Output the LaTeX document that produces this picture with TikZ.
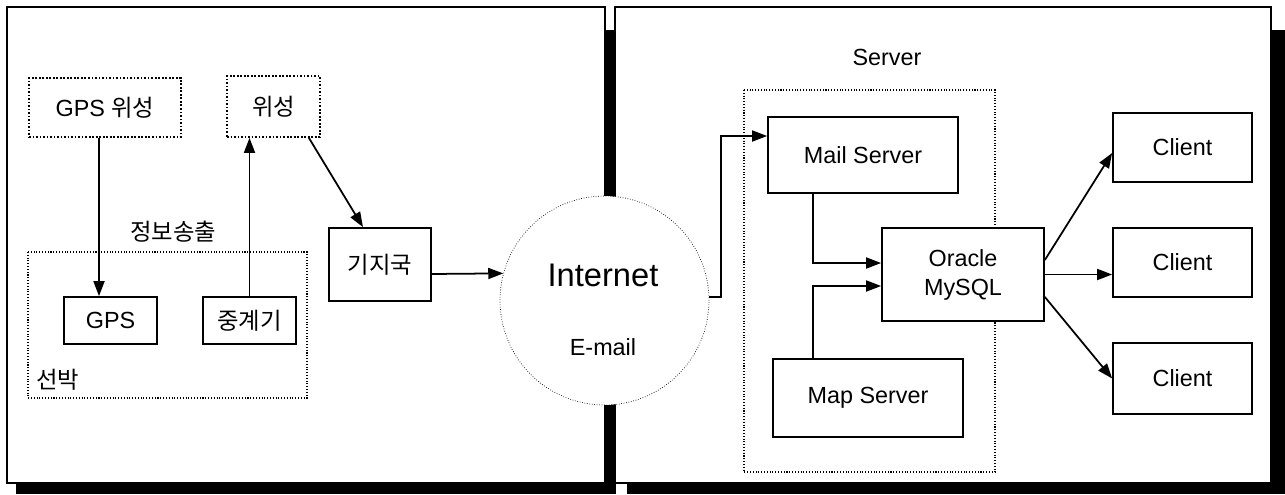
\documentclass[tikz,border=0pt]{standalone}
\usepackage{fontspec}
\setmainfont{Liberation Sans}
\newfontfamily\kr{Noto Sans CJK KR}
\usepackage{tikz}
\usetikzlibrary{arrows.meta}
\newcommand{\diagfont}{\fontsize{13.3}{16.5}\selectfont}
\newcommand{\netfont}{\fontsize{18.6}{20}\selectfont}

\begin{document}
\begin{tikzpicture}[
        x=0.02cm, y=-0.02cm,
        block/.style={rectangle, draw=black, line width=1pt, fill=white, inner sep=0pt, align=center, font=\diagfont},
        dotbox/.style={block, densely dotted},
        group/.style={draw=black, densely dotted, semithick},
        panel/.style={draw=black, thick, fill=white},
        shadow/.style={fill=black},
        relation/.style={-{Triangle[length=0.3cm, width=0.22cm]}, line width=1pt},
        caption/.style={inner sep=0pt, font=\diagfont}
    ]
        \useasboundingbox (0,0) rectangle (1285,494);

        % Panels with shadow
        \fill[shadow] (16,30) rectangle (616,494);
        \draw[panel] (7,7) rectangle (605,483);
        \fill[shadow] (627,30) rectangle (1285,494);
        \draw[panel] (615,7) rectangle (1271,483);

        % Ship side
        \draw[group] (28,252) rectangle (307,398);
        \node[caption] (infolabel) at (173,232) {\kr 정보송출};
        \node[caption] (shiplabel) at (58,380) {\kr 선박};
        \node[dotbox, minimum width=3.04cm, minimum height=1.18cm] (gpssat) at (105,107.5) {GPS {\kr 위성}};
        \node[dotbox, minimum width=1.86cm, minimum height=1.22cm] (sat) at (273.5,106.5) {\kr 위성};
        \node[block, minimum width=1.86cm, minimum height=0.94cm] (gps) at (110.5,320.5) {GPS};
        \node[block, minimum width=1.86cm, minimum height=0.94cm] (relay) at (249.5,320.5) {\kr 중계기};
        \node[block, minimum width=2.04cm, minimum height=1.46cm] (base) at (380,264.5) {\kr 기지국};

        % Internet
        \node[circle, draw=black, densely dotted, fill=white, inner sep=0pt, minimum size=4.18cm] (net) at (604.5,300.5) {};
        \node[caption, font=\netfont] (nettext) at (603,275) {Internet};
        \node[caption] (mailtext) at (603,347) {E-mail};

        % Server side
        \node[caption] (serverlabel) at (887,57) {Server};
        \draw[group] (744,90) rectangle (995,472);
        \node[block, minimum width=3.8cm, minimum height=1.52cm] (mail) at (863,155) {Mail Server};
        \node[block, minimum width=3.24cm, minimum height=1.86cm] (db) at (963,274.5) {Oracle\\MySQL};
        \node[block, minimum width=3.8cm, minimum height=1.56cm] (map) at (868,398) {Map Server};
        \node[block, minimum width=2.78cm, minimum height=1.38cm] (client1) at (1182.5,147.5) {Client};
        \node[block, minimum width=2.78cm, minimum height=1.38cm] (client2) at (1182.5,262.5) {Client};
        \node[block, minimum width=2.78cm, minimum height=1.42cm] (client3) at (1182.5,378.5) {Client};

        % Relationships
        \coordinate (gpsdrop) at ([xshift=-0.12cm]gpssat.south);
        \draw[relation] (gpsdrop) -- (gpsdrop |- gps.north);
        \draw[relation] (relay.north) -- (relay.north |- sat.south);
        \draw[relation] ([xshift=-0.24cm]sat.south east) -- ([xshift=-0.34cm]base.north);
        \draw[relation] ([yshift=-0.19cm]base.east) -- (net.165);
        \draw[relation] (net.2) -- ++(12,0) |- ([yshift=0.38cm]mail.west);
        \coordinate (maildrop) at ([xshift=-1cm]mail.south);
        \draw[relation] (maildrop) |- ([yshift=0.23cm]db.west);
        \coordinate (maprise) at ([xshift=-1.1cm]map.north);
        \draw[relation] (maprise) |- ([yshift=-0.23cm]db.west);
        \draw[relation] ([yshift=0.29cm]db.east) -- ([yshift=-0.11cm]client1.west);
        \draw[relation] (db.east) -- (db.east -| client2.west);
        \draw[relation] ([yshift=-0.45cm]db.east) -- (client3.west);
    \end{tikzpicture}
\end{document}
